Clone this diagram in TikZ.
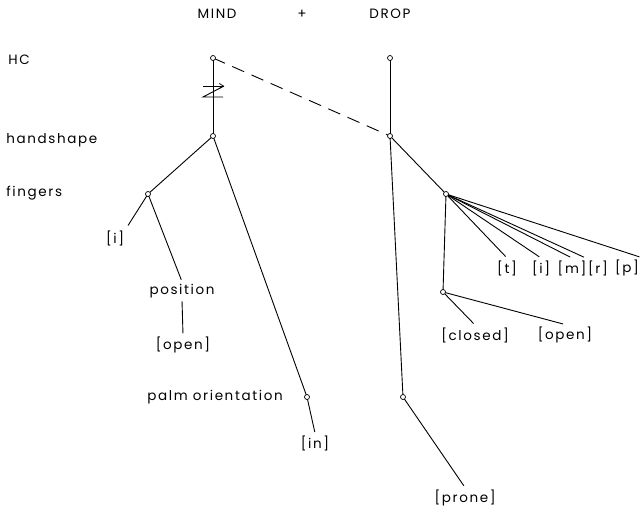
\documentclass[tikz,border=0pt]{standalone}
\usepackage{fontspec}
\setmainfont{Poppins}[LetterSpace=12.0]
\usetikzlibrary{arrows.meta}
\begin{document}
\begin{tikzpicture}[x=1pt,y=-1pt,
  line width=0.9pt,
  knot/.style={circle,draw,fill=white,inner sep=0pt,minimum size=5pt,line width=0.7pt},
  lbl/.style={inner sep=2pt,font=\fontsize{13.5}{15}\selectfont},
  tier/.style={lbl,anchor=west}]
\useasboundingbox (0,0) rectangle (642,510);

% headings
\node[lbl] (mind) at (217,14) {MIND};
\node[lbl] (plus) at (302,14) {+};
\node[lbl] (drop) at (390,14) {DROP};

% tier names
\node[tier] (hcT) at (6,60) {HC};
\node[tier] (hsT) at (4,140) {handshape};
\node[tier] (fiT) at (4,193) {fingers};

% MIND tree
\coordinate (lhc) at (213,58);
\coordinate (lhs) at (213,136);
\coordinate (lfi) at (148,194);
\coordinate (lpo) at (307,397);
\node[lbl] (li) at (115,238) {[i]};
\node[lbl] (lpos) at (182,291) {position};
\node[lbl] (lopen) at (183,345) {[open]};
\node[lbl] (lpalm) at (215,397) {palm orientation};
\node[lbl] (lin) at (315,443) {[in]};

% DROP tree
\coordinate (rhc) at (390,58);
\coordinate (rhs) at (390,136);
\coordinate (rfi) at (446,194);
\coordinate (rfp) at (443,292);
\coordinate (rpo) at (403,397);
\node[lbl] (rt) at (507,268) {[t]};
\node[lbl] (ri) at (541,268) {[i]};
\node[lbl] (rm) at (572,268) {[m]};
\node[lbl] (rr) at (598,268) {[r]};
\node[lbl] (rp) at (627,268) {[p]};
\node[lbl] (rclosed) at (475,335) {[closed]};
\node[lbl] (ropen) at (565,335) {[open]};
\node[lbl] (rprone) at (465,498) {[prone]};

% connectors, MIND
\draw (lhc) -- (lhs);
\draw (lhs) -- (lfi);
\draw (lhs) -- (lpo);
\draw[shorten >=3pt] (lfi) -- (li.north east);
\draw[shorten >=2pt] (lfi) -- (lpos.north);
\draw[shorten <=1pt,shorten >=1pt] (lpos.south) -- (lopen.north);
\draw[shorten >=1pt] (lpo) -- (lin.north);

% change marker on the MIND HC stem
\coordinate (zA) at (203,86);
\coordinate (zB) at (224,86);
\coordinate (zC) at (203,97);
\coordinate (zD) at (223,97);
\draw[-{Straight Barb[length=4pt,width=5pt]},line width=0.7pt] (zA) -- (zB);
\draw[line width=0.9pt] (zB) -- (zC) -- (zD);

% spreading link
\draw[dash pattern=on 13pt off 8pt] (lhc) -- (rhs);

% connectors, DROP
\draw (rhc) -- (rhs);
\draw (rhs) -- (rfi);
\draw (rhs) -- (rpo);
\draw[shorten >=2pt] (rfi) -- (rt.north);
\draw[shorten >=2pt] (rfi) -- (ri.north);
\draw[shorten >=2pt] (rfi) -- (rm.north);
\draw[shorten >=2pt] (rfi) -- (rr.north west);
\draw[shorten >=2pt] (rfi) -- (rp.north east);
\draw (rfi) -- (rfp);
\draw[shorten >=2pt] (rfp) -- (rclosed.north);
\draw[shorten >=2pt] (rfp) -- (ropen.north);
\draw[shorten >=2pt] (rpo) -- (rprone.north);

% nodes
\foreach \k in {lhc,lhs,lfi,lpo,rhc,rhs,rfi,rfp,rpo}
  \node[knot] (k-\k) at (\k) {};
\end{tikzpicture}
\end{document}
